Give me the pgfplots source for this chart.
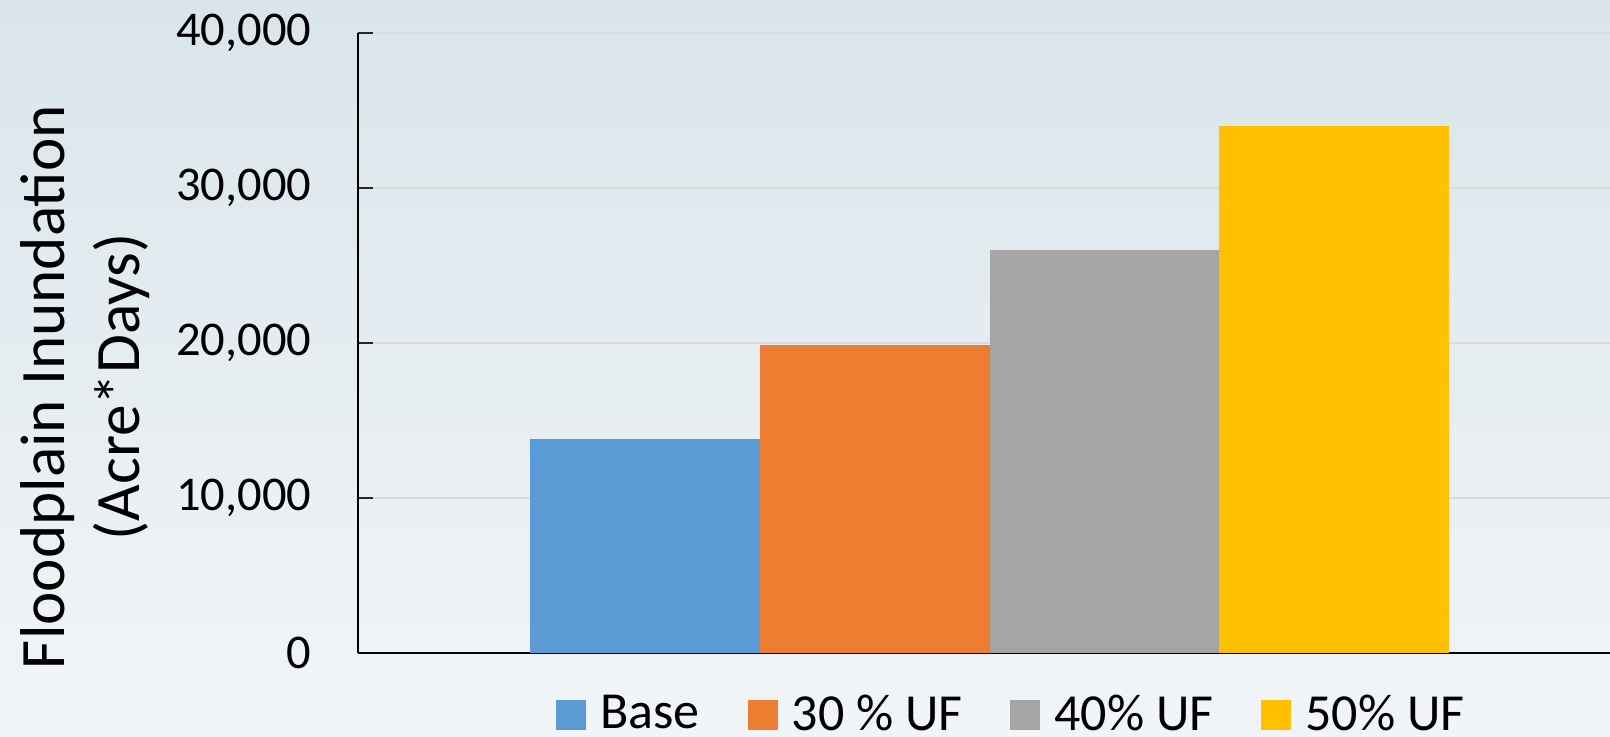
\documentclass[border=0pt]{standalone}
\usepackage{fontspec}
\setmainfont{Carlito}
\usepackage{pgfplots}
\pgfplotsset{compat=1.18}

\definecolor{bgTop}{RGB}{217,229,235}
\definecolor{bgBot}{RGB}{242,245,248}
\definecolor{cBase}{HTML}{5B9BD5}
\definecolor{cThirty}{HTML}{ED7D31}
\definecolor{cForty}{HTML}{A5A5A5}
\definecolor{cFifty}{HTML}{FFC000}

\pgfplotsset{
  flatbar/.style={ybar, bar width=1, bar shift=0pt, draw=none, fill=#1,
    legend image code/.code={\fill[##1] (0mm,-1.5mm) rectangle (3mm,1.5mm); \path (4.4mm,0mm);}},
}

\begin{document}
\begin{tikzpicture}
\useasboundingbox (0,0) rectangle (161mm,73.7mm);
\shade[top color=bgTop, bottom color=bgBot] (0,0) rectangle (161mm,73.7mm);
\begin{axis}[
  at={(35.8mm,8.43mm)}, anchor=south west,
  scale only axis, width=125.2mm, height=61.94mm,
  xmin=-2.749, xmax=2.701, ymin=0, ymax=40000,
  axis lines=left, axis line style={-, black, line width=0.2mm},
  xtick=\empty, ytick={0,10000,20000,30000,40000},
  scaled y ticks=false,
  tick align=inside, major tick length=1.5mm,
  tick style={black!85, line width=0.2mm},
  ymajorgrids, major grid style={black!14, line width=0.2mm},
  yticklabel style={font=\fontsize{13.8}{16}\selectfont, inner sep=0pt, xshift=-4.6mm},
  /pgf/number format/.cd, fixed, 1000 sep={,}, assume math mode=true, /pgfplots/.cd,
  ylabel={Floodplain Inundation\\(Acre*Days)},
  ylabel style={at={(axis description cs:-0.218,0.429)}, anchor=center, align=center,
    font=\fontsize{18}{21.5}\selectfont},
  legend columns=-1,
  legend style={draw=none, fill=none, inner sep=0pt, column sep=0pt,
    at={(axis description cs:0.521,-0.1005)}, anchor=center,
    font=\fontsize{14.8}{17}\selectfont,
    nodes={inner sep=0pt},
    /tikz/every even column/.append style={column sep=4.8mm}},
]
\addplot[flatbar=cBase]   coordinates {(-1.5,13800)};
\addlegendentry{Base}
\addplot[flatbar=cThirty] coordinates {(-0.5,19900)};
\addlegendentry{30 \% UF}
\addplot[flatbar=cForty]  coordinates {(0.5,26000)};
\addlegendentry{40\% UF}
\addplot[flatbar=cFifty]  coordinates {(1.5,34000)};
\addlegendentry{50\% UF}
\end{axis}
\end{tikzpicture}
\end{document}
